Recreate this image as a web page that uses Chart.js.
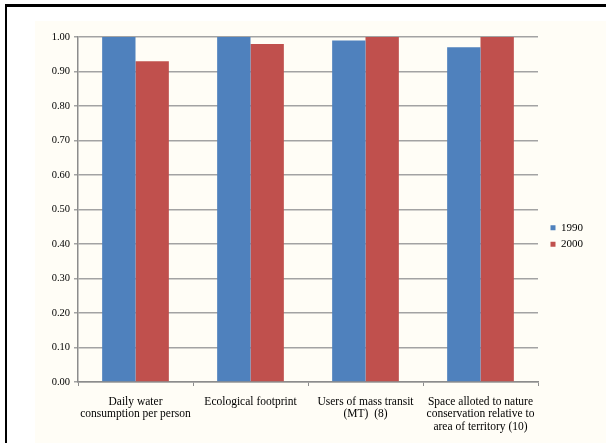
<!DOCTYPE html>
<html>
<head>
<meta charset="utf-8">
<script src="https://cdn.jsdelivr.net/npm/chart.js@4/dist/chart.umd.min.js"></script>
<style>
  html, body { margin: 0; padding: 0; background: #fff; }
  #frame {
    position: absolute; left: 5px; top: 4px; width: 610px; height: 450px;
    border-left: 2px solid #000; border-top: 3px solid #000;
  }
  #wrap {
    position: absolute; left: 35px; top: 21px; width: 571px; height: 422px;
    background: #fffdf6;
  }
</style>
</head>
<body>
<div id="frame"></div>
<div id="wrap"><canvas id="myChart" width="571" height="422"></canvas></div>
<script>
const categories = [
    ['Daily water', 'consumption per person'],
    'Ecological footprint',
    ['Users of mass transit', '(MT)  (8)'],
    ['Space alloted to nature', 'conservation relative to', 'area of territory (10)']
]
const values1990 = [1.00, 1.00, 0.99, 0.97]
const values2000 = [0.93, 0.98, 1.00, 1.00]
const yTicks = { min: 0, max: 1, step: 0.1 }

const serif = 'Liberation Serif'
const axisGrey = '#8c8c8c'

// push the legend a little away from the plot area, and up a bit
const legendNudge = {
    id: 'legendNudge',
    afterLayout(chart) {
        const lg = chart.legend;
        lg.left += 7;
        lg.right += 7;
        lg.top -= 4;
        lg.bottom -= 4;
    }
}

const ctx = document.getElementById('myChart');

new Chart(ctx, {
    type: 'bar',
    data: {
        labels: categories,
        datasets: [
            { label: '1990', data: values1990, backgroundColor: '#4f81bd' },
            { label: '2000', data: values2000, backgroundColor: '#c0504d' }
        ]
    },
    options: {
        responsive: false,
        animation: false,
        barPercentage: 1,
        categoryPercentage: 0.58,
        layout: { padding: { left: 0, top: 16, right: 20, bottom: 0 } },
        plugins: {
            tooltip: { enabled: false },
            legend: {
                position: 'right',
                labels: {
                    boxWidth: 5, boxHeight: 5, padding: 5.5,
                    color: '#000',
                    font: { family: serif, size: 11 }
                }
            }
        },
        scales: {
            x: {
                afterFit: (scale) => { scale.height = 61 },
                grid: { drawOnChartArea: false, drawTicks: true, tickLength: 4, color: axisGrey, offset: true },
                border: { color: axisGrey, width: 1.5 },
                ticks: { color: '#000', padding: 10, maxRotation: 0, autoSkip: false,
                         font: { family: serif, size: 11.5, lineHeight: 1.07 } }
            },
            y: {
                min: yTicks.min, max: yTicks.max,
                afterFit: (scale) => { scale.width = 43 },
                grid: { color: '#a3a3a3', lineWidth: 1.5, tickLength: 4 },
                border: { color: axisGrey, width: 1.5 },
                ticks: { stepSize: yTicks.step, color: '#000', padding: 4,
                         font: { family: serif, size: 10.5 },
                         callback: (v) => v.toFixed(2) }
            }
        }
    },
    plugins: [legendNudge]
});
</script>
</body>
</html>
